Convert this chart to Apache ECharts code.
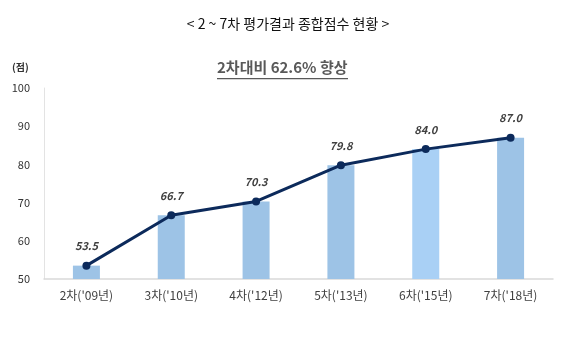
<!DOCTYPE html>
<html><head><meta charset="utf-8">
<script src="https://cdn.jsdelivr.net/npm/echarts@6/dist/echarts.min.js"></script>
<style>html,body{margin:0;padding:0;background:#fff}#c{width:576px;height:341px}</style>
</head><body><div id="c"></div>
<script>
const categories = ["2차('09년)", "3차('10년)", "4차('12년)", "5차('13년)", "6차('15년)", "7차('18년)"];
const scores = [53.5, 66.7, 70.3, 79.8, 84.0, 87.0];
const yTicks = [50, 60, 70, 80, 90, 100];
const titleText = "< 2 ~ 7차 평가결과 종합점수 현황 >";
const subtitleText = "2차대비 62.6% 향상";
const unitText = "(점)";

const barColors = ['#9DC3E6','#9DC3E6','#9DC3E6','#9DC3E6','#A9D0F5','#9DC3E6'];
const chart = echarts.init(document.getElementById('c'));
const font = '"Noto Sans CJK KR", "Noto Sans", sans-serif';
chart.setOption({
  animation: false,
  backgroundColor: '#fff',
  grid: {left: 44, right: 23, top: 88, bottom: 62},
  graphic: [
    {type: 'text', left: 'center', top: 17, style: {text: titleText, font: '14px ' + font, fill: '#111'}},
    {type: 'text', left: 217, top: 60, style: {text: subtitleText, font: 'bold 15px ' + font, fill: '#595959'}},
    {type: 'rect', left: 217, top: 78, shape: {width: 131, height: 1.2}, style: {fill: '#595959'}},
    {type: 'text', left: 12, top: 62, style: {text: unitText, font: 'bold 10px ' + font, fill: '#333'}}
  ],
  xAxis: {
    type: 'category', data: categories,
    axisLine: {lineStyle: {color: '#D9D9D9', width: 1.5}},
    axisTick: {show: false},
    axisLabel: {color: '#404040', fontSize: 12, fontFamily: font, margin: 10}
  },
  yAxis: {
    type: 'value', min: 50, max: 100, interval: 10,
    axisLine: {show: true, lineStyle: {color: '#E3E3E3'}},
    splitLine: {show: false},
    axisTick: {show: false},
    axisLabel: {color: '#333', fontSize: 11, fontFamily: font, margin: 14,
      formatter: v => yTicks.includes(v) ? String(v) : ''}
  },
  series: [
    {type: 'bar', data: scores.map((v, i) => ({value: v, itemStyle: {color: barColors[i]}})),
     barWidth: 27},
    {type: 'line', data: scores, symbol: 'circle', symbolSize: 8, z: 5,
     lineStyle: {color: '#0C2A5B', width: 3}, itemStyle: {color: '#0C2A5B'},
     label: {show: true, position: 'top', distance: 10, formatter: p => p.value.toFixed(1),
       fontStyle: 'italic', fontWeight: 'bold', fontSize: 11, color: '#404040', fontFamily: font}}
  ]
});
</script></body></html>
